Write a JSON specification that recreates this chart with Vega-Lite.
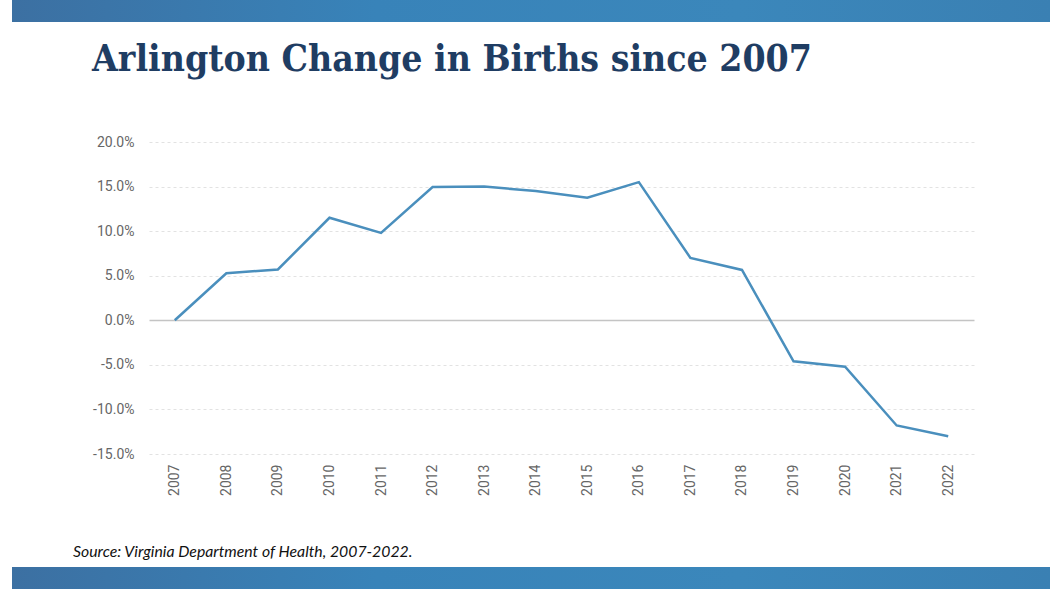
{
  "$schema": "https://vega.github.io/schema/vega-lite/v6.json",
  "background": "white",
  "padding": {"left": 12, "top": 0, "right": 0, "bottom": 0},
  "spacing": 19,
  "config": {"view": {"stroke": null}, "font": "Roboto"},
  "vconcat": [
    {
      "width": 1038,
      "height": 22,
      "data": {"values": [{}]},
      "mark": {
        "type": "rect",
        "color": {
          "gradient": "linear", "x1": 0, "x2": 1, "y1": 0, "y2": 0,
          "stops": [
            {"offset": 0, "color": "#3c70a2"},
            {"offset": 0.35, "color": "#3883b9"},
            {"offset": 0.7, "color": "#3b87bb"},
            {"offset": 1, "color": "#3a80b3"}
          ]
        }
      },
      "encoding": {}
    },
    {
      "spacing": 0,
      "hconcat": [
        {
          "width": 1,
          "height": 312,
          "data": {"values": [{}]},
          "mark": {"type": "rect", "opacity": 0},
          "encoding": {}
        },
        {
          "width": 825,
          "height": 312,
          "title": {
            "text": "Arlington Change in Births since 2007",
            "anchor": "start",
            "frame": "bounds",
            "dx": 79,
            "dy": 10,
            "font": "DejaVu Serif Condensed",
            "fontWeight": "bold",
            "fontSize": 37,
            "color": "#1f3d63",
            "offset": 66
          },
          "data": {
            "values": [
              {"year": "2007", "change": 0.0},
              {"year": "2008", "change": 0.0527},
              {"year": "2009", "change": 0.057},
              {"year": "2010", "change": 0.115},
              {"year": "2011", "change": 0.098},
              {"year": "2012", "change": 0.1495},
              {"year": "2013", "change": 0.150},
              {"year": "2014", "change": 0.145},
              {"year": "2015", "change": 0.1376},
              {"year": "2016", "change": 0.155},
              {"year": "2017", "change": 0.070},
              {"year": "2018", "change": 0.0565},
              {"year": "2019", "change": -0.046},
              {"year": "2020", "change": -0.052},
              {"year": "2021", "change": -0.118},
              {"year": "2022", "change": -0.130}
            ]
          },
          "mark": {"type": "line", "color": "#4a8fbd", "strokeWidth": 2.5},
          "encoding": {
            "x": {
              "field": "year",
              "type": "ordinal",
              "scale": {"type": "point", "padding": 0.5},
              "axis": {
                "title": null,
                "labelAngle": -90,
                "domain": false,
                "ticks": false,
                "grid": false,
                "labelPadding": 10,
                "labelFontSize": 14,
                "labelColor": "#666666",
                "minExtent": 71
              }
            },
            "y": {
              "field": "change",
              "type": "quantitative",
              "scale": {"domain": [-0.15, 0.2], "nice": false, "zero": false},
              "axis": {
                "title": null,
                "values": [-0.15, -0.1, -0.05, 0, 0.05, 0.1, 0.15, 0.2],
                "labelExpr": "replace(format(datum.value, '.1%'), '\u2212', '-')",
                "domain": false,
                "ticks": false,
                "labelPadding": 15,
                "labelFontSize": 14,
                "labelColor": "#666666",
                "minExtent": 136,
                "gridColor": {"condition": {"test": "datum.value === 0", "value": "#c4c4c4"}, "value": "#e2e2e2"},
                "gridDash": {"condition": {"test": "datum.value === 0", "value": []}, "value": [3, 3]},
                "gridWidth": {"condition": {"test": "datum.value === 0", "value": 1.5}, "value": 1}
              }
            }
          }
        }
      ]
    },
    {
      "width": 1038,
      "height": 22,
      "title": {
        "text": "Source: Virginia Department of Health, 2007-2022.",
        "anchor": "start",
        "frame": "bounds",
        "dx": 61,
        "font": "Lato",
        "fontStyle": "italic",
        "fontWeight": "normal",
        "fontSize": 15.8,
        "color": "#111111",
        "offset": 6
      },
      "data": {"values": [{}]},
      "mark": {
        "type": "rect",
        "color": {
          "gradient": "linear", "x1": 0, "x2": 1, "y1": 0, "y2": 0,
          "stops": [
            {"offset": 0, "color": "#3c70a2"},
            {"offset": 0.35, "color": "#3883b9"},
            {"offset": 0.7, "color": "#3b87bb"},
            {"offset": 1, "color": "#3a80b3"}
          ]
        }
      },
      "encoding": {}
    }
  ]
}
